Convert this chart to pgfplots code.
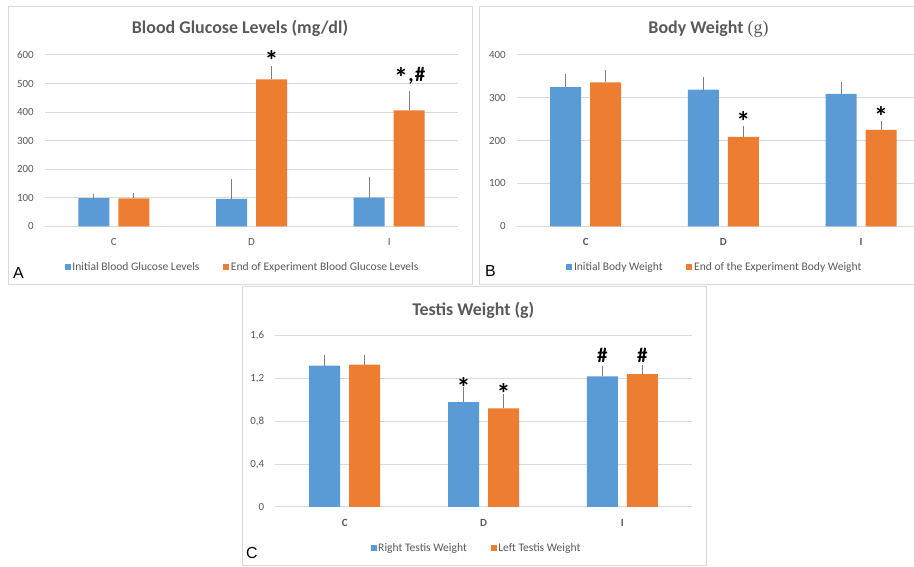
\documentclass[border=0pt]{standalone}
\usepackage{pgfplots}
\pgfplotsset{compat=1.18}
\usepackage{fontspec}
\setmainfont{Carlito}
\newfontfamily\arialf{Liberation Sans}
\newfontfamily\serf{Liberation Serif}
\definecolor{cblue}{HTML}{5B9BD5}
\definecolor{corange}{HTML}{ED7D31}
\definecolor{txtgray}{HTML}{595959}
\definecolor{gridgray}{HTML}{D9D9D9}
\definecolor{framegray}{HTML}{D9D9D9}
\definecolor{errgray}{HTML}{7F7F7F}

\pgfplotsset{
  panel/.style={
    scale only axis,
    ybar=9bp, bar width=31bp,
    xmin=-0.5, xmax=2.5, xtick={0,1,2},
    ymin=0,
    axis line style={draw=none},
    major tick length=0pt,
    ymajorgrids, grid style={draw=gridgray, line width=1bp},
    tick label style={font=\fontsize{11}{13}\selectfont, text=txtgray},
    /pgf/number format/assume math mode=true,
    xticklabel style={anchor=north, inner sep=0pt, yshift=-12bp},
    yticklabel style={anchor=east, inner sep=0pt, xshift=-11bp},
    clip=false,
    legend columns=2,
    legend style={draw=none, fill=none, font=\fontsize{11.6}{13}\selectfont, text=txtgray, anchor=center, inner sep=0pt, nodes={inner sep=1.7bp}},
    error bars/y dir=plus, error bars/y explicit,
    error bars/error bar style={line width=1bp, draw=errgray, solid},
    error bars/error mark options={line width=1bp, draw=errgray, mark size=2.5bp},
  },
  sq/.style={legend image code/.code={\fill[##1] (0bp,-3bp) rectangle (6bp,3bp);}},
  bl/.style={fill=cblue, draw=none, sq},
  or/.style={fill=corange, draw=none, sq},
}
\newcommand{\astfont}{\bfseries\fontsize{28}{28}\selectfont}
\newcommand{\hashfont}{\bfseries\fontsize{21}{21}\selectfont}
\newcommand{\gap}{\hbox to 22bp{\hfil}}
\newcommand{\asthash}{\setbox0\hbox{\astfont*}\setbox2\hbox{\hashfont\#}%
  \raisebox{\dimexpr\ht2-\ht0\relax}{\copy0}{\hashfont\kern0.5bp,\kern1bp}\copy2}

\begin{document}
\begin{tikzpicture}[x=1bp, y=1bp]
\path[use as bounding box, clip] (0,0) rectangle (914,567);
\fill[white] (0,0) rectangle (914,567);

% frames
\draw[framegray, line width=1bp] (8,560) rectangle (472,282);
\draw[framegray, line width=1bp] (479,560) rectangle (925,282);
\draw[framegray, line width=1bp] (242,280) rectangle (706.7,1);

% panel letters
\node[anchor=base west, inner sep=0pt, font=\arialf\fontsize{16}{16}\selectfont] at (13,288.7) {A};
\node[anchor=base west, inner sep=0pt, font=\arialf\fontsize{16}{16}\selectfont] at (485,290.3) {B};
\node[anchor=base west, inner sep=0pt, font=\arialf\fontsize{16}{16}\selectfont] at (246,8) {C};

% titles
\node[anchor=base, inner sep=0pt, text=txtgray, font=\bfseries\fontsize{18}{21}\selectfont] at (240,533) {Blood Glucose Levels (mg/dl)};
\node[anchor=base, inner sep=0pt, text=txtgray, font=\bfseries\fontsize{18}{21}\selectfont] at (708.5,533) {Body Weight {\normalfont\serf\fontsize{18}{21}\selectfont(g)}};
\node[anchor=base, inner sep=0pt, text=txtgray, font=\bfseries\fontsize{18}{21}\selectfont] at (473.3,251.7) {Testis Weight (g)};

% Panel A
\begin{axis}[panel, at={(45bp,340.7bp)}, anchor=south west, width=413bp, height=171.3bp,
  ymax=600, ytick={0,100,...,600}, xticklabels={C,D,I},
  legend style={at={(axis description cs:0.478,-0.2376)}}]
\addplot[bl] table[x=x, y=y, y error=e] {
x y e
0 99 7
1 96 62
2 100 65
};
\addlegendentry{Initial Blood Glucose Levels\gap}
\addplot[or] table[x=x, y=y, y error=e] {
x y e
0 98 9
1 515 38
2 406 60
};
\addlegendentry{End of Experiment Blood Glucose Levels}
\node[anchor=north, inner sep=0pt, xshift=20bp, font=\astfont] at (axis cs:1,617.5) {*};
\node[anchor=north, inner sep=0pt, xshift=20.5bp] at (axis cs:2,558) {\asthash};
\end{axis}

% Panel B
\begin{axis}[panel, at={(516.9bp,340.7bp)}, anchor=south west, width=413bp, height=171.3bp,
  ymax=400, ytick={0,100,...,400}, xticklabels={C,D,I},
  xticklabel style={font=\bfseries\fontsize{11}{13}\selectfont},
  legend style={at={(axis description cs:0.479,-0.2376)}}]
\addplot[bl] table[x=x, y=y, y error=e] {
x y e
0 325 25
1 319 24
2 309 23
};
\addlegendentry{Initial Body Weight\gap}
\addplot[or] table[x=x, y=y, y error=e] {
x y e
0 336 24
1 209 20
2 225 16
};
\addlegendentry{End of the Experiment Body Weight}
\node[anchor=north, inner sep=0pt, xshift=20bp, font=\astfont] at (axis cs:1,267.7) {*};
\node[anchor=north, inner sep=0pt, xshift=20bp, font=\astfont] at (axis cs:2,281) {*};
\end{axis}

% Panel C
\begin{axis}[panel, at={(275.3bp,60bp)}, anchor=south west, width=416.4bp, height=171.3bp,
  ymax=1.6, ytick={0,0.4,0.8,1.2,1.6}, xticklabels={C,D,I},
  yticklabel={\pgfmathprintnumber[fixed, precision=1, use comma]{\tick}},
  xticklabel style={font=\bfseries\fontsize{11}{13}\selectfont},
  legend style={at={(axis description cs:0.4827,-0.2393)}}]
\addplot[bl] table[x=x, y=y, y error=e] {
x y e
0 1.32 0.08
1 0.98 0.12
2 1.22 0.07
};
\addlegendentry{Right Testis Weight\gap}
\addplot[or] table[x=x, y=y, y error=e] {
x y e
0 1.33 0.07
1 0.92 0.11
2 1.24 0.06
};
\addlegendentry{Left Testis Weight}
\node[anchor=north, inner sep=0pt, xshift=-20bp, font=\astfont] at (axis cs:1,1.215) {*};
\node[anchor=north, inner sep=0pt, xshift=20bp, font=\astfont] at (axis cs:1,1.159) {*};
\node[anchor=north, inner sep=0pt, xshift=-20bp, font=\hashfont] at (axis cs:2,1.486) {\#};
\node[anchor=north, inner sep=0pt, xshift=20bp, font=\hashfont] at (axis cs:2,1.486) {\#};
\end{axis}
\end{tikzpicture}
\end{document}
